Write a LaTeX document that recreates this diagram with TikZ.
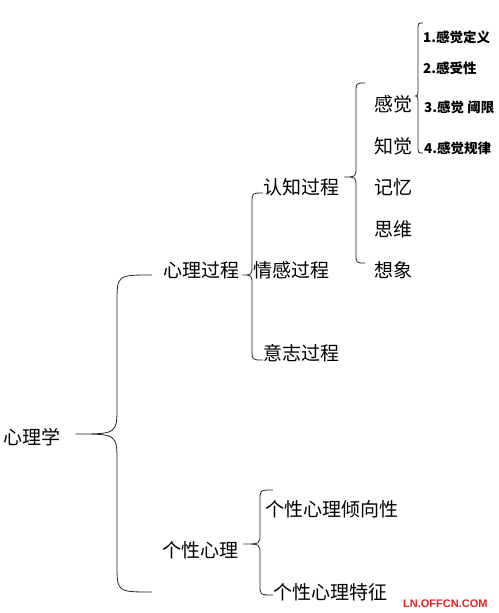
\documentclass[tikz,border=0pt]{standalone}
\usepackage{fontspec}
\usepackage{tikz}
\usetikzlibrary{calc}
\newfontfamily\cjk{Noto Sans CJK SC}
\newfontfamily\wmfont{Liberation Sans}
\definecolor{cmark}{RGB}{225,35,35}

% curly bracket: tip, top end, bottom end, x of spine, radius
\newcommand\curly[5]{%
  \draw[brc] let \p1=(#1), \p2=(#2), \p3=(#3) in
    (\p2) .. controls ({#4},\y2) .. ({#4},{\y2-#5}) -- ({#4},{\y1+#5})
          .. controls ({#4},\y1) .. (\p1)
    (\p1) .. controls ({#4},\y1) .. ({#4},{\y1-#5}) -- ({#4},{\y3+#5})
          .. controls ({#4},\y3) .. (\p3);}

\begin{document}
\begin{tikzpicture}[x=1pt,y=-1pt,
    every node/.style={inner sep=0pt, anchor=west, text=black},
    lbl/.style={font=\cjk\fontsize{19}{19}\selectfont},
    sub/.style={font=\cjk\bfseries\fontsize{13.5}{14}\selectfont},
    brc/.style={draw=black!85, line width=0.8pt},
  ]
  \useasboundingbox (0,0) rectangle (498,613);

  % ── Levels ───────────────────────────────────────────
  \node[lbl] (root)  at (3,437)   {心理学};
  \node[lbl] (proc)  at (163,270) {心理过程};
  \node[lbl] (pers)  at (162,550) {个性心理};

  \node[lbl] (cog)   at (263,187) {认知过程};
  \node[lbl] (emo)   at (253,270) {情感过程};
  \node[lbl] (will)  at (263,353) {意志过程};

  \node[lbl] (sens)  at (374,104) {感觉};
  \node[lbl] (perc)  at (374,146) {知觉};
  \node[lbl] (mem)   at (374,187) {记忆};
  \node[lbl] (think) at (374,229) {思维};
  \node[lbl] (imag)  at (374,270) {想象};

  \node[sub] (s1)    at (423,37)  {1.感觉定义};
  \node[sub] (s2)    at (423,68)  {2.感受性};
  \node[sub] (s3)    at (424,107) {3.感觉 阈限};
  \node[sub] (s4)    at (424,148) {4.感觉规律};

  \node[lbl] (tend)  at (265,509) {个性心理倾向性};
  \node[lbl] (trait) at (273,592) {个性心理特征};

  % ── Brace ends ───────────────────────────────────────
  \coordinate (b1t) at (152,275);  \coordinate (b1b) at (152,592);
  \coordinate (b2t) at (263,193);  \coordinate (b2b) at (263,360);
  \coordinate (b3t) at (365,83);   \coordinate (b3b) at (365,263);
  \coordinate (b4t) at (423,23);   \coordinate (b4b) at (423,153);
  \coordinate (b5t) at (273,490);  \coordinate (b5b) at (273,595);

  % ── Braces ───────────────────────────────────────────
  \curly{$(root.east)+(15,-3)$}{b1t}{b1b}{117pt}{28pt}
  \curly{$(proc.east)+(3,5)$}{b2t}{b2b}{252pt}{10pt}
  \curly{$(cog.east)+(5,-10)$}{b3t}{b3b}{356pt}{10pt}
  \curly{$(sens.east)+(2,-8)$}{b4t}{b4b}{418pt}{8pt}
  \curly{$(pers.east)+(5,-6)$}{b5t}{b5b}{260pt}{10pt}

  % watermark
  \node[font=\wmfont\bfseries\fontsize{11}{11}\selectfont, text=cmark] (mark)
    at (403,604) {LN.OFFCN.COM};
\end{tikzpicture}
\end{document}
